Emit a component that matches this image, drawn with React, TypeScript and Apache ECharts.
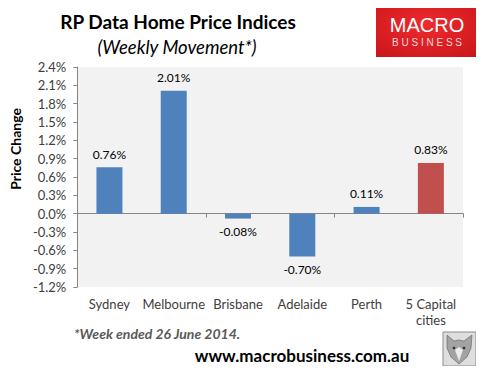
import React, { useEffect, useRef } from "react";
import * as echarts from "echarts";

const categories = ["Sydney", "Melbourne", "Brisbane", "Adelaide", "Perth", "5 Capital\ncities"];
const values = [0.76, 2.01, -0.08, -0.7, 0.11, 0.83];
const barColors = ["#4f81bd", "#4f81bd", "#4f81bd", "#4f81bd", "#4f81bd", "#c0504d"];
const yMin = -1.2;
const yMax = 2.4;
const yStep = 0.3;

const FONT = "Lato, 'Open Sans', sans-serif";

export default function App() {
  const ref = useRef<HTMLDivElement>(null);
  useEffect(() => {
    if (!ref.current) return;
    const chart = echarts.init(ref.current, undefined, { renderer: "svg" });
    chart.setOption({
      animation: false,
      backgroundColor: "#ffffff",
      textStyle: { fontFamily: FONT },
      grid: {
        left: 65,
        right: 21,
        top: 67,
        bottom: 87,
        show: true,
        backgroundColor: "#f2f2f2",
        borderWidth: 0,
      },
      xAxis: [
        {
          type: "category",
          data: categories,
          position: "bottom",
          axisLine: { show: false, onZero: false },
          axisTick: { show: false },
          axisLabel: {
            color: "#404040",
            fontSize: 13,
            fontFamily: FONT,
            margin: 9,
            lineHeight: 16,
            interval: 0,
          },
        },
        {
          type: "category",
          data: categories,
          position: "bottom",
          axisLine: { show: true, onZero: true, lineStyle: { color: "#868686", width: 1 } },
          axisTick: { show: true, inside: false, length: 4, lineStyle: { color: "#868686" } },
          axisLabel: { show: false },
        },
      ],
      yAxis: {
        type: "value",
        min: yMin,
        max: yMax,
        interval: yStep,
        name: "Price Change",
        nameLocation: "middle",
        nameGap: 50,
        nameRotate: 90,
        nameTextStyle: {
          color: "#000000",
          fontSize: 14,
          fontWeight: "bold",
          fontFamily: FONT,
          padding: [0, 0, 0, 56],
        },
        axisLine: { show: true, lineStyle: { color: "#868686" } },
        axisTick: { show: true, inside: false, length: 4, lineStyle: { color: "#868686" } },
        splitLine: { show: false },
        axisLabel: {
          color: "#404040",
          fontSize: 13,
          fontFamily: FONT,
          margin: 11,
          formatter: (v: number) => v.toFixed(1) + "%",
        },
      },
      series: [
        {
          type: "bar",
          xAxisIndex: 0,
          barWidth: 26,
          data: values.map((v, i) => ({
            value: v,
            itemStyle: { color: barColors[i] },
            label: { position: v < 0 ? "bottom" : "top" },
          })),
          label: {
            show: true,
            distance: 7,
            color: "#000000",
            fontSize: 12,
            fontFamily: FONT,
            formatter: (p: any) => p.value.toFixed(2) + "%",
          },
        },
      ],
      graphic: [
        {
          type: "text",
          style: {
            text: "RP Data Home Price Indices",
            x: 178,
            y: 21,
            align: "center",
            verticalAlign: "middle",
            font: "bold 19px " + FONT,
            fill: "#000000",
          },
        },
        {
          type: "text",
          style: {
            text: "(Weekly Movement*)",
            x: 177,
            y: 47,
            align: "center",
            verticalAlign: "middle",
            font: "italic 18.5px " + FONT,
            fill: "#000000",
          },
        },
        {
          type: "rect",
          shape: { x: 376, y: 4, width: 101, height: 53 },
          style: {
            fill: new echarts.graphic.RadialGradient(0.5, 0.4, 0.8, [
              { offset: 0, color: "#ee2a2e" },
              { offset: 1, color: "#c8151a" },
            ]),
          },
        },
        {
          type: "text",
          style: {
            text: "MACRO",
            x: 427,
            y: 25,
            align: "center",
            verticalAlign: "middle",
            font: "20px 'Liberation Sans', Arial, sans-serif",
            fill: "#ffffff",
          },
        },
        {
          type: "text",
          style: {
            text: "B U S I N E S S",
            x: 427,
            y: 42,
            align: "center",
            verticalAlign: "middle",
            font: "10px 'Liberation Sans', Arial, sans-serif",
            fill: "#f7dada",
          },
        },
        {
          type: "text",
          style: {
            text: "*Week ended 26 June 2014.",
            x: 74,
            y: 333,
            align: "left",
            verticalAlign: "middle",
            font: "italic bold 14px " + FONT,
            fill: "#595959",
          },
        },
        {
          type: "text",
          style: {
            text: "www.macrobusiness.com.au",
            x: 302,
            y: 355,
            align: "center",
            verticalAlign: "middle",
            font: "bold 17px " + FONT,
            fill: "#000000",
          },
        },
        {
          type: "rect",
          shape: { x: 443, y: 332, width: 33, height: 34 },
          style: { fill: "#dedede", stroke: "#8c8c8c", lineWidth: 1 },
        },
        {
          type: "polygon",
          shape: {
            points: [
              [447, 335], [454, 341], [459, 340], [464, 341], [472, 335], [471, 348],
              [467, 357], [459, 364], [451, 357], [447, 348],
            ],
          },
          style: { fill: "#a3a3a3", stroke: "#5a5a5a", lineWidth: 0.6 },
        },
        {
          type: "polygon",
          shape: { points: [[455, 350], [459, 347], [463, 350], [459, 361]] },
          style: { fill: "#ececec" },
        },
        {
          type: "circle",
          shape: { cx: 454, cy: 348, r: 1.3 },
          style: { fill: "#303030" },
        },
        {
          type: "circle",
          shape: { cx: 464, cy: 348, r: 1.3 },
          style: { fill: "#303030" },
        },
      ],
    });
    return () => chart.dispose();
  }, []);
  return <div ref={ref} style={{ width: 484, height: 374, margin: -8 }} />;
}
